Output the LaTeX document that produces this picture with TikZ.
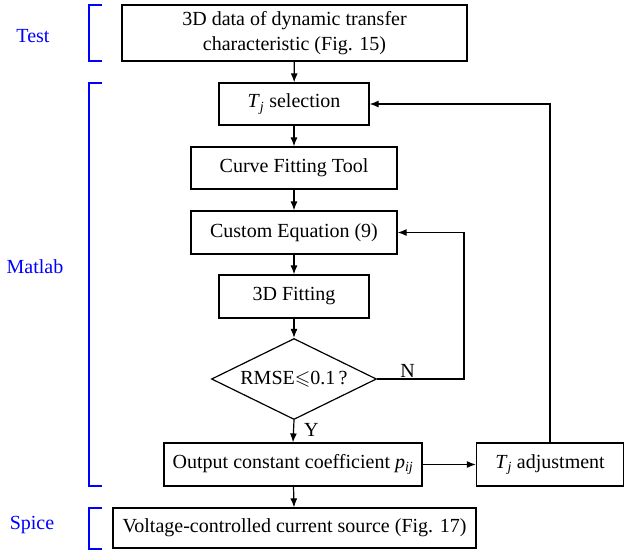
\documentclass[tikz,border=0pt]{standalone}
\usepackage{amssymb}
\usepackage{fontspec}
\setmainfont{Liberation Serif}
\usetikzlibrary{shapes.geometric,arrows.meta}
\tikzset{
  blk/.style={draw,inner sep=0pt,align=center},
  dec/.style={draw,diamond,aspect=2.04,inner sep=0pt,minimum width=165pt,minimum height=81pt},
  lbl/.style={text=blue,text height=1.5ex,text depth=.25ex},
  brk/.style={draw=blue,line width=1.2pt},
  flow/.style={arrows={-Latex[length=9pt,width=7pt]}},
}
\begin{document}
\begin{tikzpicture}[x=1pt,y=-1pt,line width=1.2pt,font=\fontsize{20}{25}\selectfont]
\useasboundingbox (0,0) rectangle (624,550);

% flow blocks
\node[blk,minimum width=345pt,minimum height=56pt] (data) at (294.5,33) {3D data of dynamic transfer\\characteristic (Fig. 15)};
\node[blk,minimum width=150pt,minimum height=42pt] (tsel) at (294,104) {\textit{T}\textsubscript{\textit{j}} selection};
\node[blk,minimum width=206pt,minimum height=42pt] (cft) at (294,168) {Curve Fitting Tool};
\node[blk,minimum width=206pt,minimum height=43pt] (ceq) at (294,232.5) {Custom Equation (9)};
\node[blk,minimum width=150pt,minimum height=43pt] (fit) at (294,296.5) {3D Fitting};
\node[dec] (rmse) at (294,379) {RMSE$\leqslant$0.1\,?};
\node[blk,minimum width=258pt,minimum height=43pt] (out) at (293,464.5) {Output constant coefficient \textit{p}\textsubscript{\textit{ij}}};
\node[blk,minimum width=147pt,minimum height=43pt] (tadj) at (550,464.5) {\textit{T}\textsubscript{\textit{j}} adjustment};
\node[blk,minimum width=363pt,minimum height=40pt] (vccs) at (294.5,528) {Voltage-controlled current source (Fig. 17)};
\coordinate (nturn) at (464,379);

\draw[flow] (data) -- (tsel);
\draw[flow] (tsel) -- (cft);
\draw[flow] (cft) -- (ceq);
\draw[flow] (ceq) -- (fit);
\draw[flow] (fit) -- (rmse);
\draw[flow] (rmse.south) -- (out.north) node[pos=0.45,right=10pt,inner sep=0pt] {Y};
\draw[flow] (rmse.east) -- (nturn) node[pos=0.35,above=1pt,inner sep=0pt] {N} |- (ceq.east);
\draw[flow] (out) -- (tadj);
\draw[flow] (tadj.north) |- (tsel.east);
\draw[flow] (out) -- (vccs);

% stage brackets
\draw[brk] (102,5) -- (89,5) -- (89,61) -- (102,61);
\draw[brk] (102,83) -- (89,83) -- (89,486) -- (102,486);
\draw[brk] (102,508) -- (89,508) -- (89,549) -- (102,549);
\node[lbl] (test) at (33,40) {Test};
\node[lbl] (matlab) at (35,271) {Matlab};
\node[lbl] (spice) at (32,527) {Spice};
\end{tikzpicture}
\end{document}
